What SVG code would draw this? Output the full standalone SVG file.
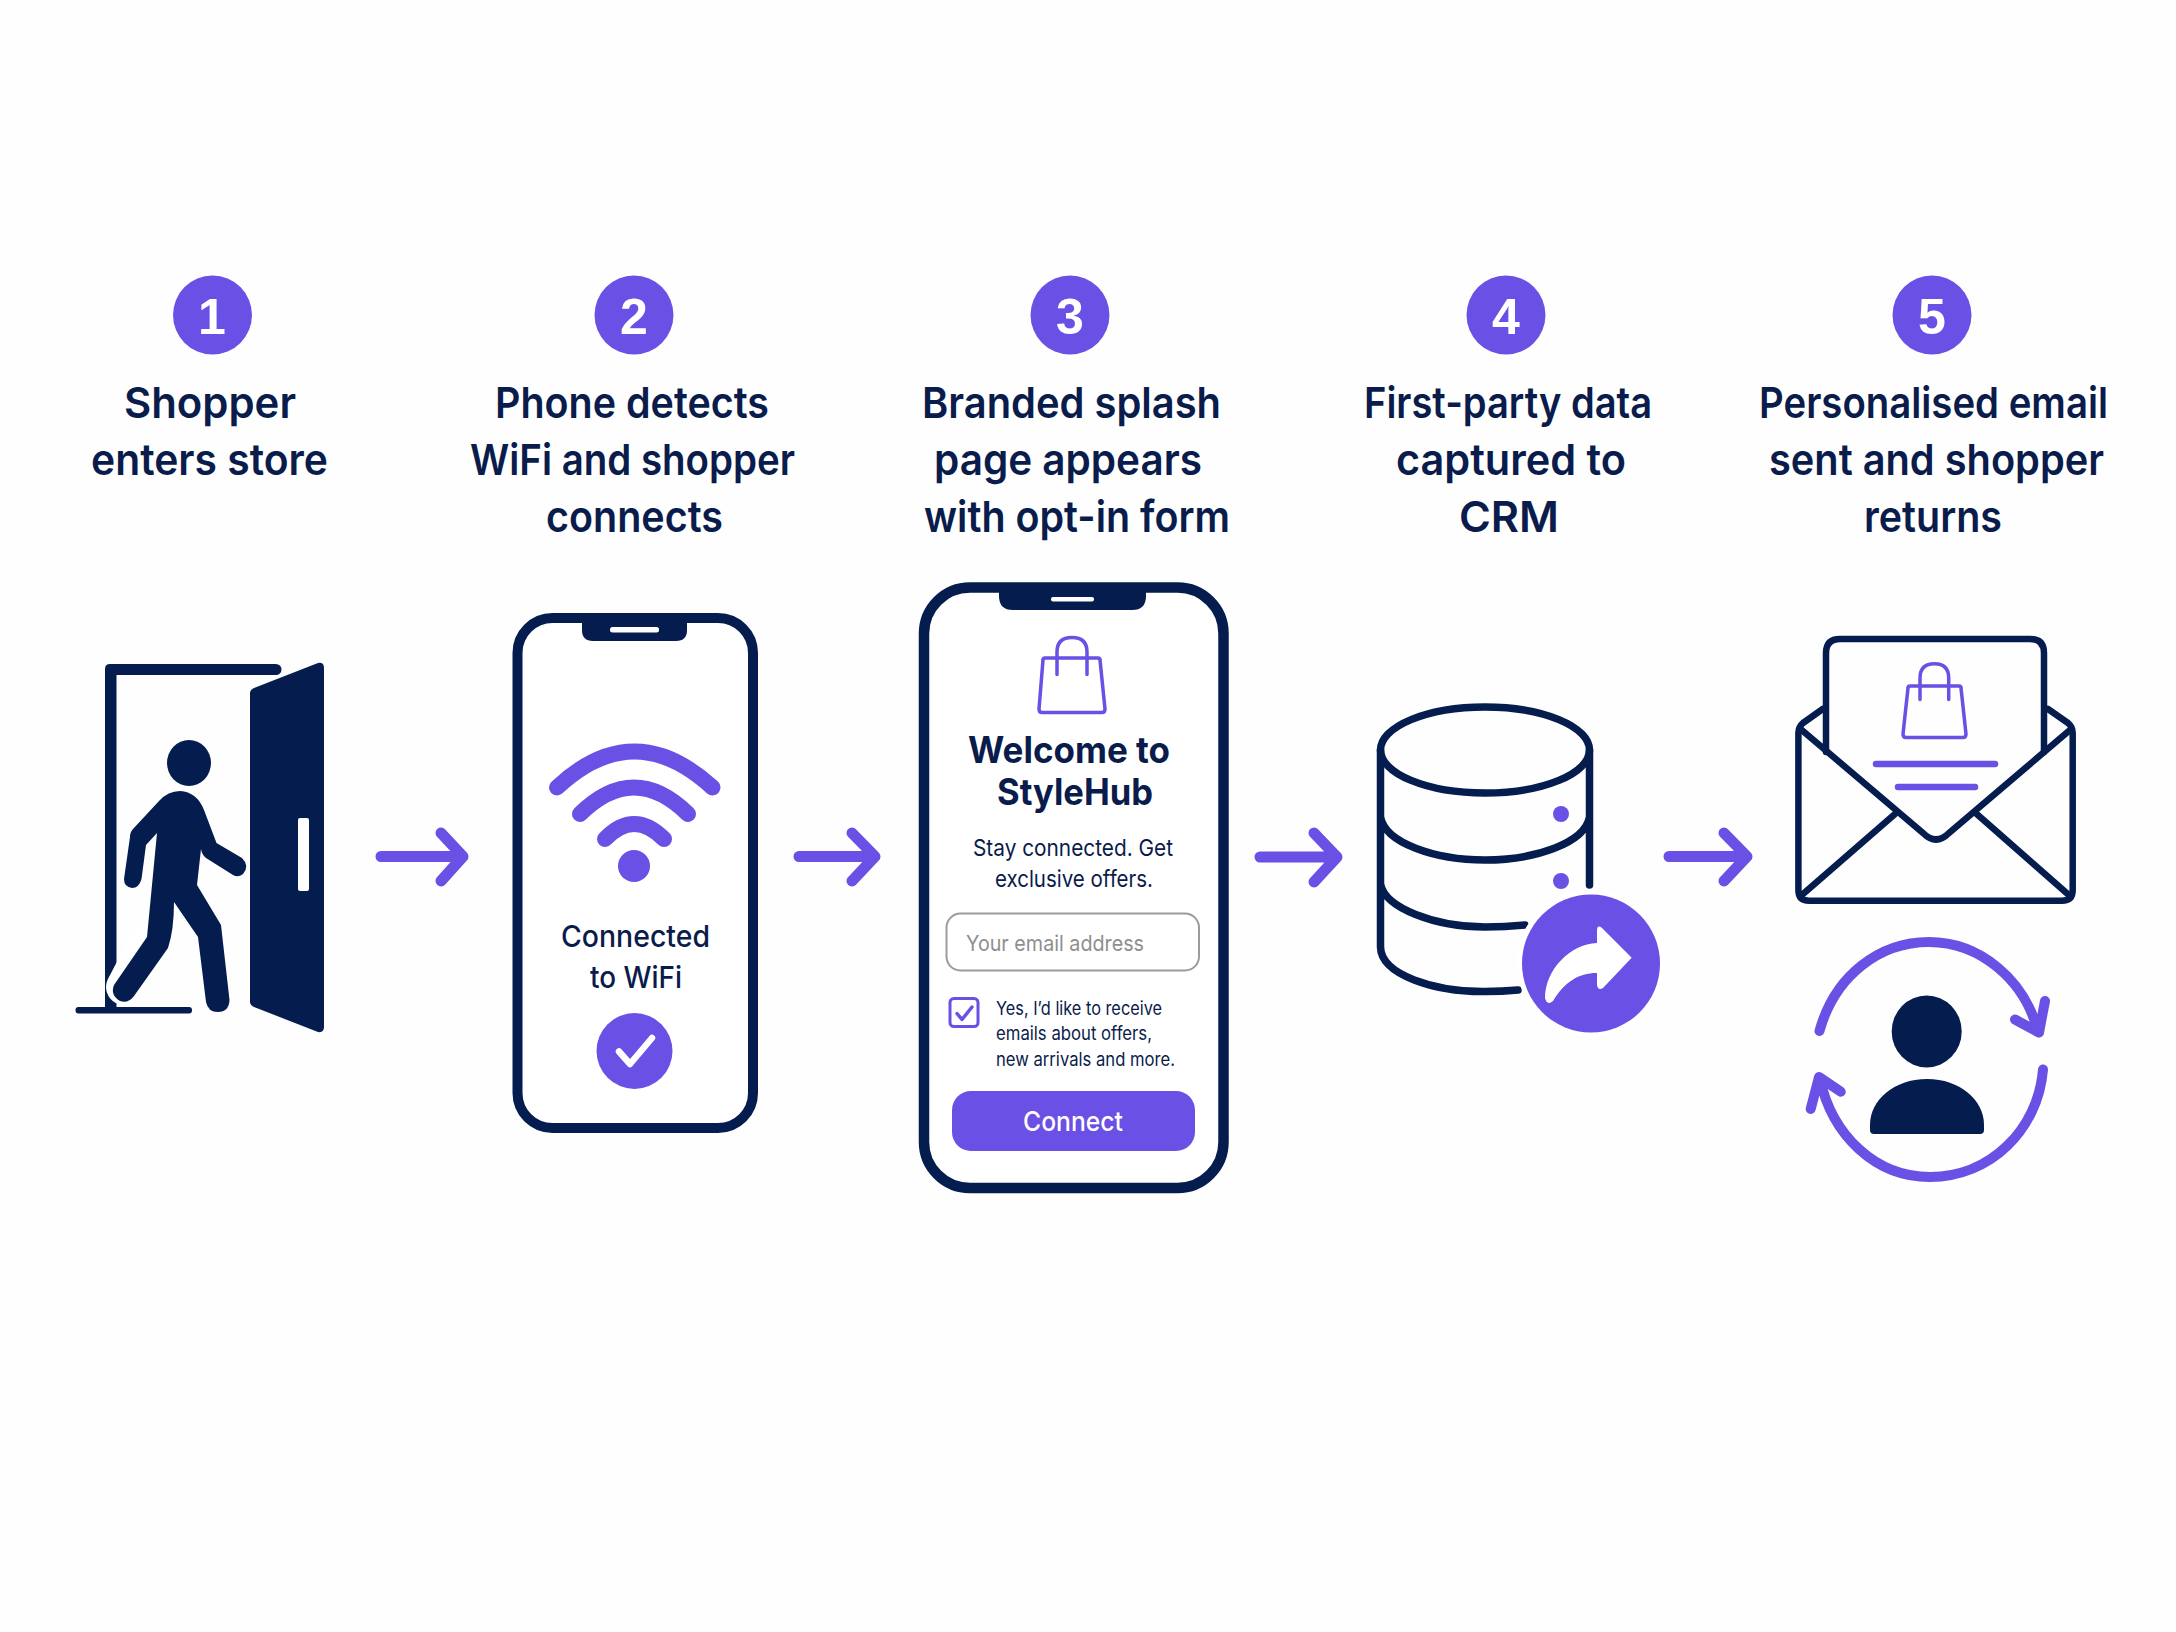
<svg xmlns="http://www.w3.org/2000/svg" width="2176" height="1632" viewBox="0 0 2176 1632">
<style>
text{font-family:"Inter","Liberation Sans",sans-serif;fill:#0a1c4b}
.h{font-size:43px;font-weight:600}
.n{font-family:"Liberation Sans",sans-serif;font-size:50px;font-weight:700;fill:#fff;text-anchor:middle}
.badge,.pf{fill:#6a50e4}
.navy{fill:#041c4e}
.ns{fill:none;stroke:#041c4e;stroke-linecap:round;stroke-linejoin:round}
.ps{fill:none;stroke:#6a50e4;stroke-linecap:round;stroke-linejoin:round}
.arrow{fill:none;stroke:#6a50e4;stroke-width:11;stroke-linecap:round;stroke-linejoin:round}
.phone{fill:#fff;stroke:#041c4e}
.wh{fill:#fff}
</style>
<rect width="2176" height="1632" fill="#fefefe"/>
<g id="connectors">
<path class="arrow" d="M381 856.500H462M441 833L463 856.500L441 881"/>
<path class="arrow" d="M799 856.500H874M852 833L875 856.500L852 881"/>
<path class="arrow" d="M1260 857H1336M1314 833L1337 857L1314 882"/>
<path class="arrow" d="M1669 856.500H1746M1724 833L1747 856.500L1724 881"/>
</g>
<g id="step-1">
<circle class="badge" cx="212.500" cy="315" r="39.500"/>
<text class="n" x="212" y="334">1</text>
<text class="h" x="124" y="418" textLength="172" lengthAdjust="spacingAndGlyphs">Shopper</text>
<text class="h" x="91" y="475" textLength="237" lengthAdjust="spacingAndGlyphs">enters store</text>
<path class="navy" d="M110 664H276a5.500 5.500 0 0 1 0 11H116.500V1007H105V669q0-5 5-5Z"/>
<rect class="navy" x="75.500" y="1007" width="116.500" height="6.500" rx="3"/>
<path class="navy" d="M254 688L318 663q6-1 6 5V1027q0 6-6 5L254 1007q-4-2-4-5V693q0-3 4-5Z"/>
<rect class="wh" x="298" y="818" width="11" height="73" rx="2"/>
<path d="M146 945L124 987" stroke="#fff" stroke-width="36" stroke-linecap="round" fill="none"/>
<ellipse class="navy" cx="189" cy="763" rx="22" ry="23"/>
<path class="navy" d="M159 801Q168 791 180 791Q197 792 204 810L216.500 843L242 858Q250 866 243 874Q238 878 233 875L206 858Q202 855 201 849L197 885L221 925L229.500 1000Q229 1012 218 1012Q208 1012 206 1002L198 937L174 902Q174 930 168 948L134 996Q128 1004 120 1001Q110 995 114 985L147 937L157 833L146 845L141.500 879Q139 888 132 888Q124 887 124 879L130 837Q130 832 133 829Z"/>
</g>
<g id="step-2">
<circle class="badge" cx="634" cy="315" r="39.500"/>
<text class="n" x="634" y="334">2</text>
<text class="h" x="495" y="418" textLength="274" lengthAdjust="spacingAndGlyphs">Phone detects</text>
<text class="h" x="470" y="475" textLength="325" lengthAdjust="spacingAndGlyphs">WiFi and shopper</text>
<text class="h" x="546" y="532" textLength="177" lengthAdjust="spacingAndGlyphs">connects</text>
<rect class="phone" x="517.500" y="618" width="235.500" height="510" rx="35" stroke-width="10"/>
<path class="navy" d="M582 618H687V630q0 11-11 11H593q-11 0-11-11Z"/>
<rect class="wh" x="610" y="627" width="49" height="5.500" rx="2.500"/>
<path class="ps" stroke-width="16" d="M557 787.500Q634 715.500 712.500 787.500"/>
<path class="ps" stroke-width="16" d="M580 814Q634 761 688 814"/>
<path class="ps" stroke-width="16" d="M605 839Q634 809 664 839"/>
<circle class="pf" cx="634" cy="866" r="16"/>
<text x="561" y="947" font-size="30" font-weight="500" textLength="149" lengthAdjust="spacingAndGlyphs">Connected</text>
<text x="590" y="988" font-size="30" font-weight="500" textLength="92" lengthAdjust="spacingAndGlyphs">to WiFi</text>
<circle class="pf" cx="634.500" cy="1051" r="38"/>
<path d="M619 1051.500L630 1064L652 1038" fill="none" stroke="#fff" stroke-width="6.500" stroke-linecap="round" stroke-linejoin="round"/>
</g>
<g id="step-3">
<circle class="badge" cx="1070" cy="315" r="39.500"/>
<text class="n" x="1070" y="334">3</text>
<text class="h" x="922" y="418" textLength="299" lengthAdjust="spacingAndGlyphs">Branded splash</text>
<text class="h" x="934" y="475" textLength="268" lengthAdjust="spacingAndGlyphs">page appears</text>
<text class="h" x="924" y="532" textLength="306" lengthAdjust="spacingAndGlyphs">with opt-in form</text>
<rect class="phone" x="924" y="587.500" width="299.500" height="600.500" rx="46" stroke-width="10.500"/>
<path class="navy" d="M999 588H1146V596q0 14-14 14H1013q-14 0-14-14Z"/>
<rect class="wh" x="1051" y="597" width="43" height="4.500" rx="2"/>
<path class="ps" stroke-width="3.500" d="M1045 658H1098Q1100 658 1100 660L1105 709Q1105 712.500 1102 712.500H1042Q1039 712.500 1039 709L1043 660Q1043 658 1045 658ZM1057 674.500V652Q1057 637.600 1072 637.600Q1087 637.600 1087 652V674.500"/>
<text x="968" y="763" font-size="37" font-weight="700" textLength="202" lengthAdjust="spacingAndGlyphs">Welcome to</text>
<text x="997" y="805" font-size="37" font-weight="700" textLength="156" lengthAdjust="spacingAndGlyphs">StyleHub</text>
<text x="973" y="855.500" font-size="23" font-weight="400" textLength="200" lengthAdjust="spacingAndGlyphs">Stay connected. Get</text>
<text x="995" y="886.500" font-size="23" font-weight="400" textLength="158" lengthAdjust="spacingAndGlyphs">exclusive offers.</text>
<rect x="946.500" y="913.500" width="252.500" height="57" rx="14" fill="#fff" stroke="#9b9b9b" stroke-width="2"/>
<text x="966" y="950.500" font-size="22" style="fill:#8f8f8f" textLength="178" lengthAdjust="spacingAndGlyphs">Your email address</text>
<rect class="ps" x="950" y="998.500" width="28" height="28" rx="4" stroke-width="3"/>
<path class="ps" stroke-width="3.500" d="M957 1013.500L962 1019.500L972 1007"/>
<text x="996" y="1014.500" font-size="18.500" textLength="166" lengthAdjust="spacingAndGlyphs">Yes, I’d like to receive</text>
<text x="996" y="1040" font-size="18.500" textLength="156" lengthAdjust="spacingAndGlyphs">emails about offers,</text>
<text x="996" y="1065.500" font-size="18.500" textLength="179" lengthAdjust="spacingAndGlyphs">new arrivals and more.</text>
<rect class="pf" x="952" y="1091" width="243" height="60" rx="19"/>
<text x="1023" y="1131" font-size="27" font-weight="500" style="fill:#fff" textLength="100" lengthAdjust="spacingAndGlyphs">Connect</text>
</g>
<g id="step-4">
<circle class="badge" cx="1506" cy="315" r="39.500"/>
<text class="n" x="1506" y="334">4</text>
<text class="h" x="1364" y="418" textLength="288" lengthAdjust="spacingAndGlyphs">First-party data</text>
<text class="h" x="1396" y="475" textLength="230" lengthAdjust="spacingAndGlyphs">captured to</text>
<text class="h" x="1459" y="532" textLength="100" lengthAdjust="spacingAndGlyphs">CRM</text>
<ellipse class="ns" cx="1485" cy="750" rx="104.500" ry="43" stroke-width="7.500"/>
<path class="ns" stroke-width="7.500" stroke-linecap="butt" d="M1380.500 750V947C1381 975 1435 992 1485 991.500Q1502 991.500 1518 990M1589.500 750V885M1380.500 817C1385 843 1435 860 1485 860C1535 860 1585 843 1589.500 817M1380.500 884C1385 908 1435 927 1485 927Q1505 927 1525 925"/>
<circle class="pf" cx="1561" cy="814" r="8"/>
<circle class="pf" cx="1561" cy="881" r="8"/>
<circle cx="1591" cy="963" r="74" class="wh"/>
<circle class="pf" cx="1591" cy="963.500" r="69"/>
<path class="wh" d="M1631.700 957.700L1602 928Q1597 924 1597 931V943C1570 944 1545 970 1545 998Q1547 1006 1553 1001C1565 982 1578 973 1597 973V985Q1598 991 1603 988Z"/>
</g>
<g id="step-5">
<circle class="badge" cx="1932" cy="315" r="39.500"/>
<text class="n" x="1932" y="334">5</text>
<text class="h" x="1759" y="418" textLength="349" lengthAdjust="spacingAndGlyphs">Personalised email</text>
<text class="h" x="1769" y="475" textLength="335" lengthAdjust="spacingAndGlyphs">sent and shopper</text>
<text class="h" x="1864" y="532" textLength="138" lengthAdjust="spacingAndGlyphs">returns</text>
<path class="ns" stroke-width="6.500" d="M1826 752V653Q1826 639 1840 639H2030Q2044 639 2044 653V752"/>
<path class="ns" stroke-width="6.500" d="M1822.700 709L1803 723Q1798.400 727 1798.400 733V890Q1798.400 900.700 1809 900.700H2062Q2072.700 900.700 2072.700 890V733Q2072.700 727 2068 723L2048 709"/>
<path class="ns" stroke-width="6.500" d="M1801.700 730L1923 833Q1936 846 1949 833L2070 730"/>
<path class="ns" stroke-width="6.500" d="M1803 894L1895 814M1976.700 814L2067.700 894"/>
<path class="ps" stroke-width="3.500" d="M1910 686H1959Q1961 686 1961 688L1966 734Q1966 737.500 1963 737.500H1906Q1903 737.500 1903 734L1908 688Q1908 686 1910 686ZM1920 699.500V678Q1920 663.700 1934.500 663.700Q1948.700 663.700 1948.700 678V699.500"/>
<path class="ps" stroke-width="6.500" d="M1876 764H1995M1898 787H1975"/>
<ellipse class="navy" cx="1926.700" cy="1031.400" rx="35" ry="36"/>
<path class="navy" d="M1874 1134H1980Q1984 1134 1984 1130V1125C1984 1100 1960 1079 1927 1079C1894 1079 1870 1100 1870 1125V1130Q1870 1134 1874 1134Z"/>
<path class="ps" stroke-width="10" d="M1819.500 1031C1835 975 1880 942 1929 942C1980 942 2025 980 2038 1032M2015 1019.500L2039 1032.500L2045 1001"/>
<path class="ps" stroke-width="10" d="M2043 1069.500C2038 1130 1990 1177 1930 1177C1875 1177 1832 1135 1820 1079M1810.700 1109L1819 1077L1840.700 1091.700"/>
</g>
</svg>
